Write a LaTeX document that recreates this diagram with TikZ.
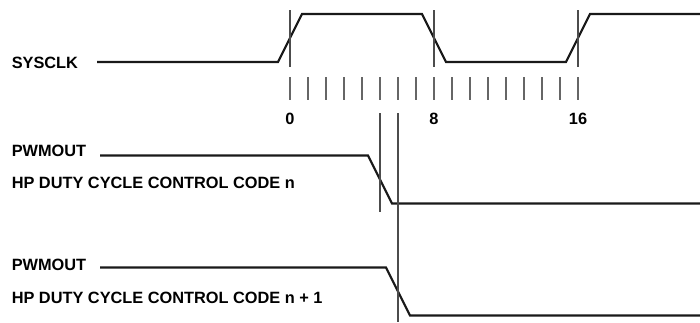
\documentclass[tikz,border=0pt]{standalone}
\usepackage{fontspec}
\setmainfont{Liberation Sans}
\begin{document}
\begin{tikzpicture}[x=0.75pt,y=-0.75pt,
  wave/.style={line width=1.6pt,line join=miter,black!90},
  marker/.style={line width=0.8pt,black!70},
  tick/.style={line width=0.8pt,black!60},
  lbl/.style={font=\fontsize{12.25}{14}\selectfont\bfseries,inner sep=0pt,anchor=base west},
  num/.style={font=\fontsize{12.25}{14}\selectfont\bfseries,inner sep=0pt,anchor=base}]
\useasboundingbox (0,0) rectangle (700,322);
% labels
\node[lbl] (sysclk) at (11.5,68.3) {SYSCLK};
\node[lbl] (pwm1) at (11.5,156) {PWMOUT};
\node[lbl] (hp1) at (11.5,188.3) {HP DUTY CYCLE CONTROL CODE n};
\node[lbl] (pwm2) at (11.5,270) {PWMOUT};
\node[lbl] (hp2) at (11.5,303.3) {HP DUTY CYCLE CONTROL CODE n + 1};
% SYSCLK waveform
\draw[wave] (97,62) -- (278,62) -- (302,14) -- (422,14) -- (446,62) -- (566,62) -- (590,14) -- (700,14);
% markers on clock edges
\draw[marker] (290,10) -- (290,67);
\draw[marker] (434,10) -- (434,67);
\draw[marker] (578,10) -- (578,67);
% ticks
\foreach \k in {0,...,16} {\draw[tick] (290+18*\k,77) -- (290+18*\k,100);}
\node[num] (n0) at (290,124.5) {0};
\node[num] (n8) at (434,124.5) {8};
\node[num] (n16) at (578,124.5) {16};
% PWMOUT 1
\draw[wave] (100,155.5) -- (368,155.5) -- (392,203.5) -- (700,203.5);
% PWMOUT 2
\draw[wave] (100,267.5) -- (386,267.5) -- (410,315.5) -- (700,315.5);
% reference lines
\draw[marker] (380,113) -- (380,212);
\draw[marker] (398,113) -- (398,322);
\end{tikzpicture}
\end{document}
